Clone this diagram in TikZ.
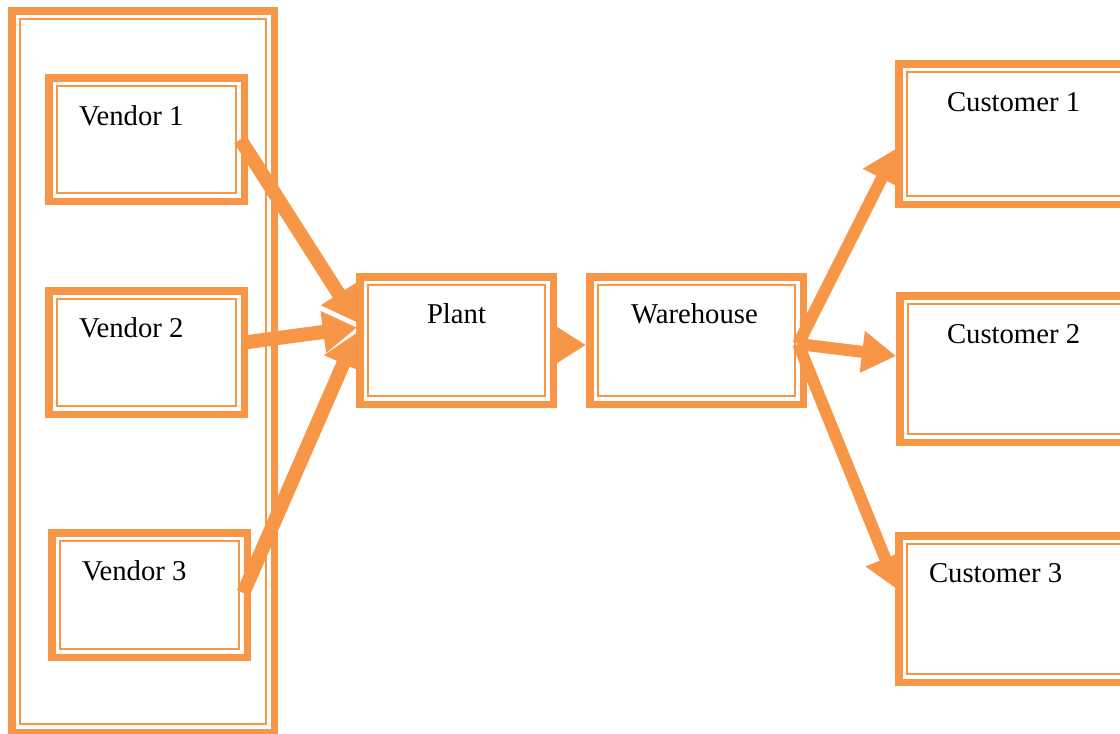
\documentclass[tikz,border=0pt]{standalone}
\usepackage{fontspec}
\setmainfont{Liberation Serif}
\usetikzlibrary{arrows.meta}
\definecolor{acc}{HTML}{F79646}
\tikzset{
  boxthick/.style={draw=acc, line width=7.5pt, fill=white, rectangle, inner sep=0pt, outer sep=0pt},
  boxthin/.style={draw=acc, line width=2.2pt},
  lbl/.style={anchor=base west, inner sep=0pt, outer sep=0pt, font=\fontsize{28.7pt}{34pt}\selectfont, text=black},
  flow/.style={draw=acc, line width=12pt, -{Triangle[length=34pt,width=40pt]}},
  flowin/.style={flow, line width=14pt},
}
% name, left, top, right, bottom (outer edges, image pixels)
\newcommand\ddbox[5]{%
  \node[boxthick, minimum width={(#4-#2-7.5)*1pt}, minimum height={(#5-#3-7.5)*1pt}]
    (#1) at ({(#2+#4)/2},{(#3+#5)/2}) {};
  \draw[boxthin] ([shift={(8.2,8.2)}]#1.north west) rectangle ([shift={(-8.2,-8.2)}]#1.south east);
}
\begin{document}
\begin{tikzpicture}[x=1pt,y=-1pt]
\useasboundingbox (0,0) rectangle (1120,734);
\clip (0,0) rectangle (1120,734);
% container and vendors
\ddbox{cont}{8}{7}{278}{736}
\ddbox{v1}{45}{74}{248}{205}
\ddbox{v2}{45}{287}{248}{418}
\ddbox{v3}{48}{529}{251}{661}
% plant position (needed for vendor arrows)
\coordinate (plw) at (357,340.5);
% vendor arrows
\draw[flowin] ([shift={(-4,0)}]v1.east) -- ([shift={(0,-18)}]plw);
\draw[flowin] ([shift={(0,-10)}]v2.east) -- ([shift={(0,-13)}]plw);
\draw[flowin] ([shift={(-4,-2)}]v3.east) -- ([shift={(0,-8)}]plw);
% plant
\ddbox{pl}{356}{273}{557}{408}
\coordinate (whw) at (586,345);
\draw[flow] ([shift={(0,4.5)}]pl.east) -- (whw);
% warehouse
\ddbox{wh}{586}{273}{807}{408}
\coordinate (c1t) at (897,148);
\coordinate (c2t) at (896,356);
\coordinate (c3t) at (898,590);
\draw[flow] ([shift={(-5,3.5)}]wh.east) -- (c1t);
\draw[flow] ([shift={(-5,3.5)}]wh.east) -- (c2t);
\draw[flow] ([shift={(-5,3.5)}]wh.east) -- (c3t);
% customers
\ddbox{c1}{895}{60}{1135}{208}
\ddbox{c2}{896}{292}{1135}{446}
\ddbox{c3}{895}{532}{1135}{686}
% labels
\node[lbl] (t1) at (79,125) {Vendor 1};
\node[lbl] (t2) at (79,337) {Vendor 2};
\node[lbl] (t3) at (82,580) {Vendor 3};
\node[lbl] (tp) at (427,323) {Plant};
\node[lbl] (tw) at (631,323) {Warehouse};
\node[lbl] (tc1) at (947,111) {Customer 1};
\node[lbl] (tc2) at (947,343) {Customer 2};
\node[lbl] (tc3) at (929,582) {Customer 3};
\end{tikzpicture}
\end{document}
